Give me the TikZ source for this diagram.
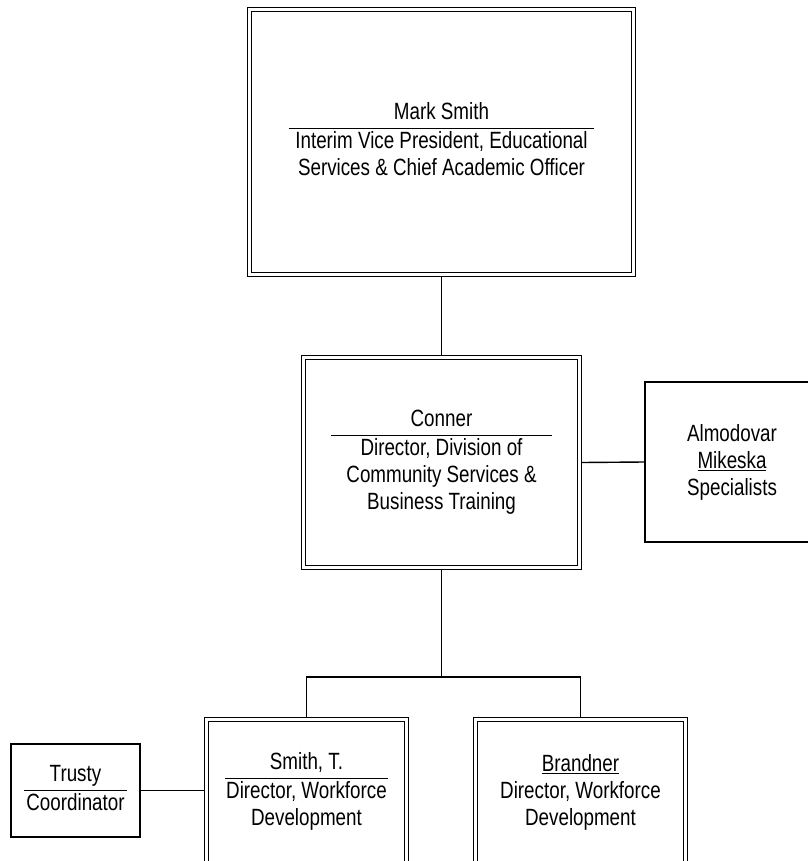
\documentclass[tikz,border=0pt]{standalone}
\usepackage{fontspec}
\setmainfont[FakeStretch=0.8]{Liberation Sans}
\newcommand{\titled}[3]{\begin{tabular}{@{\hspace{#1}}c@{\hspace{#1}}}#2\\\hline #3\end{tabular}}
\setlength{\arrayrulewidth}{1.3pt}
\begin{document}
\begin{tikzpicture}[x=1pt, y=-1pt]

        % Define custom styles for boxes
        \tikzset{
          dblbox/.style={rectangle, draw, double, line width=1.4pt, double distance=2.2pt,
            inner sep=0pt, outer sep=2.5pt, align=center, font=\fontsize{23.5}{27}\selectfont},
          plainbox/.style={rectangle, draw, line width=1.4pt, inner sep=0pt,
            align=center, font=\fontsize{23.5}{27}\selectfont},
          link/.style={line width=1.4pt}
        }

        \useasboundingbox (0,0) rectangle (807,861);

        % Define boxes at fixed positions
        \node[dblbox, minimum width=384pt, minimum height=265pt] (mark) at (441.5,142)
          {\titled{6.5pt}{Mark Smith}{Interim Vice President, Educational\\Services \& Chief Academic Officer}};
        \node[dblbox, minimum width=276pt, minimum height=210pt] (conner) at (441.5,462.5)
          {\titled{15.5pt}{Conner}{Director, Division of\\Community Services \&\\Business Training}};
        \node[plainbox, minimum width=174pt, minimum height=160pt] (almodovar) at (732,462)
          {Almodovar\\\underline{Mikeska}\\Specialists};
        \node[dblbox, minimum width=200pt, minimum height=145pt] (smith) at (306.5,792)
          {\titled{1pt}{Smith, T.}{Director, Workforce\\Development}};
        \node[dblbox, minimum width=210pt, minimum height=145pt] (brandner) at (580.5,792)
          {\underline{Brandner}\\Director, Workforce\\Development};
        \node[plainbox, minimum width=129pt, minimum height=93pt] (trusty) at (75.5,790.5)
          {\titled{2pt}{Trusty}{Coordinator}};

        % Draw connecting lines
        \coordinate (bus) at (441.5,677);
        \draw[link] (mark.south) -- (conner.north);
        \draw[link] (conner.east) -- (almodovar.west);
        \draw[link] (conner.south) -- (bus);
        \draw[link] (smith.north) |- (bus) -| (brandner.north);
        \draw[link] (trusty.east) -- (trusty.east -| smith.west);

\end{tikzpicture}
\end{document}
